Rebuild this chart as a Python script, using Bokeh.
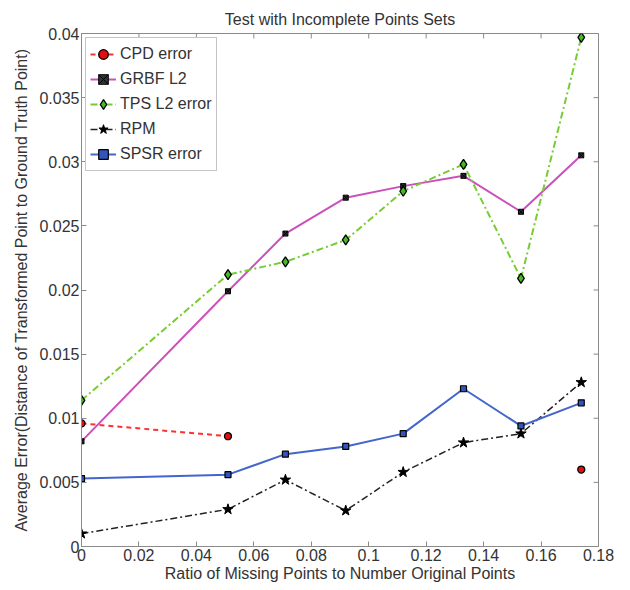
from bokeh.plotting import figure
from bokeh.models import Range1d, FixedTicker, Legend, LegendItem
from bokeh.embed import file_html
from bokeh.resources import INLINE
import math

nan = float("nan")

# ---- data ----
ratio = [0.0, 0.051, 0.071, 0.092, 0.112, 0.133, 0.153, 0.174]
cpd_error = [0.0096, 0.0086, nan, nan, nan, nan, nan, 0.0060]
grbf_l2 = [0.0082, 0.0199, 0.0244, 0.0272, 0.0281, 0.0289, 0.0261, 0.0305]
tps_l2_error = [0.0114, 0.0212, 0.0222, 0.0239, 0.0277, 0.0298, 0.0209, 0.0397]
rpm = [0.0010, 0.0029, 0.0052, 0.0028, 0.0058, 0.0081, 0.0088, 0.0128]
spsr_error = [0.0053, 0.0056, 0.0072, 0.0078, 0.0088, 0.0123, 0.0094, 0.0112]

x_ticks = [0, 0.02, 0.04, 0.06, 0.08, 0.1, 0.12, 0.14, 0.16, 0.18]
x_tick_labels = ["0", "0.02", "0.04", "0.06", "0.08", "0.1", "0.12", "0.14", "0.16", "0.18"]
y_ticks = [0, 0.005, 0.01, 0.015, 0.02, 0.025, 0.03, 0.035, 0.04]
y_tick_labels = ["0", "0.005", "0.01", "0.015", "0.02", "0.025", "0.03", "0.035", "0.04"]

title_text = "Test with Incomplete Points Sets"
x_label = "Ratio of Missing Points to Number Original Points"
y_label = "Average Error(Distance of Transformed Point to Ground Truth Point)"

FONT = "Liberation Sans"
FS = "16px"
TXT = "#333333"
AX = "#8a8a8a"

p = figure(frame_width=517, frame_height=513,
           x_range=Range1d(x_ticks[0], x_ticks[-1]), y_range=Range1d(y_ticks[0], y_ticks[-1]),
           output_backend="svg", toolbar_location=None,
           min_border_left=81, min_border_right=24, min_border_bottom=40, min_border_top=33,
           title=title_text)
p.title.align = "center"
p.title.text_font = FONT
p.title.text_font_style = "normal"
p.title.text_font_size = FS
p.title.text_color = TXT
p.title.standoff = 12

p.xgrid.visible = False
p.ygrid.visible = False
p.outline_line_color = AX
p.background_fill_color = "white"
p.border_fill_color = "white"

def style_axis(ax):
    ax.axis_line_color = AX
    ax.major_tick_line_color = AX
    ax.major_tick_in = 5
    ax.major_tick_out = 0
    ax.minor_tick_line_color = None
    ax.major_label_text_font = FONT
    ax.major_label_text_font_size = FS
    ax.major_label_text_color = TXT
    ax.axis_label_text_font = FONT
    ax.axis_label_text_font_size = FS
    ax.axis_label_text_font_style = "normal"
    ax.axis_label_text_color = TXT

xa = p.xaxis[0]
xa.ticker = FixedTicker(ticks=x_ticks)
xa.major_label_overrides = {t: l for t, l in zip(x_ticks, x_tick_labels)}
xa.axis_label = x_label
xa.major_label_standoff = 2
xa.axis_label_standoff = 1
style_axis(xa)

ya = p.yaxis[0]
ya.ticker = FixedTicker(ticks=y_ticks)
ya.major_label_overrides = {t: l for t, l in zip(y_ticks, y_tick_labels)}
ya.axis_label = y_label
ya.major_label_standoff = 2
ya.axis_label_standoff = 6
style_axis(ya)

# inward tick marks on the top and right edges of the box (clipped to the frame)
p.scatter(x_ticks, [y_ticks[-1]] * len(x_ticks), marker="dash", angle=math.pi / 2,
          size=10, line_color=AX, line_width=1)
p.scatter([x_ticks[-1]] * len(y_ticks), y_ticks, marker="dash",
          size=10, line_color=AX, line_width=1)

items = []
# CPD
l1 = p.line(ratio, cpd_error, line_color="#ff3030", line_width=2, line_dash="5 4")
s1 = p.scatter(ratio, cpd_error, marker="circle", size=7, fill_color="#e01010", line_color="black", line_width=1.3)
items.append(LegendItem(label="CPD error", renderers=[l1, s1]))
# GRBF
l2 = p.line(ratio, grbf_l2, line_color="#cc50bb", line_width=2)
s2 = p.scatter(ratio, grbf_l2, marker="square_x", size=5, fill_color="#333333", line_color="black", line_width=1)
items.append(LegendItem(label="GRBF L2", renderers=[l2, s2]))
# TPS
l3 = p.line(ratio, tps_l2_error, line_color="#77cc33", line_width=2, line_dash="7 3 2 3")
s3 = p.scatter(ratio, tps_l2_error, marker="diamond", size=10, fill_color="#44bb22", line_color="black", line_width=1.3)
items.append(LegendItem(label="TPS L2 error", renderers=[l3, s3]))
# RPM
l4 = p.line(ratio, rpm, line_color="#222222", line_width=1.5, line_dash="7 3 2 3")
s4 = p.scatter(ratio, rpm, marker="star", size=11, fill_color="black", line_color="black")
items.append(LegendItem(label="RPM", renderers=[l4, s4]))
# SPSR
l5 = p.line(ratio, spsr_error, line_color="#4466cc", line_width=2)
s5 = p.scatter(ratio, spsr_error, marker="square", size=6, fill_color="#3355bb", line_color="black", line_width=1.2)
items.append(LegendItem(label="SPSR error", renderers=[l5, s5]))

legend = Legend(items=items, location="top_left")
legend.label_text_font = FONT
legend.label_text_font_size = FS
legend.label_text_color = TXT
legend.border_line_color = AX
legend.background_fill_alpha = 1
legend.margin = 4
legend.padding = 4
legend.spacing = 1
legend.glyph_width = 26
legend.glyph_height = 24
legend.label_standoff = 4
p.add_layout(legend, "center")

with open("out.html", "w") as f:
    f.write(file_html(p, INLINE))
